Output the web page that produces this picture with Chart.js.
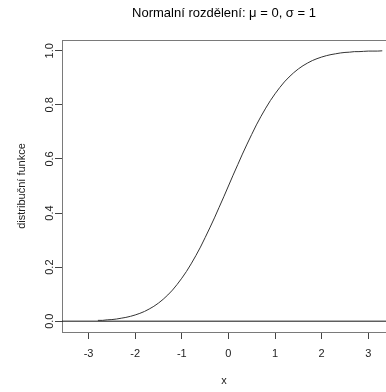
<!DOCTYPE html>
<html>
<head>
<meta charset="utf-8">
<script src="https://cdn.jsdelivr.net/npm/chart.js@4/dist/chart.umd.min.js"></script>
<style>
    html, body { margin: 0; padding: 0; background: #fff; }
    #wrap { width: 386px; height: 392px; }
</style>
</head>
<body>
<div id="wrap"><canvas id="cdfChart"></canvas></div>
<script>
const X_VALUES = [
    -2.8, -2.7, -2.6, -2.5, -2.4, -2.3, -2.2, -2.1, -2.0, -1.9, -1.8, -1.7, -1.6, -1.5, -1.4, -1.3,
    -1.2, -1.1, -1.0, -0.9, -0.8, -0.7, -0.6, -0.5, -0.4, -0.3, -0.2, -0.1, 0.0, 0.1, 0.2, 0.3,
    0.4, 0.5, 0.6, 0.7, 0.8, 0.9, 1.0, 1.1, 1.2, 1.3, 1.4, 1.5, 1.6, 1.7, 1.8, 1.9,
    2.0, 2.1, 2.2, 2.3, 2.4, 2.5, 2.6, 2.7, 2.8, 2.9, 3.0, 3.1, 3.2, 3.3
];
const CDF_VALUES = [
    0.003, 0.003, 0.005, 0.006, 0.008, 0.011, 0.014, 0.018, 0.023, 0.029, 0.036, 0.045, 0.055, 0.067, 0.081, 0.097,
    0.115, 0.136, 0.159, 0.184, 0.212, 0.242, 0.274, 0.309, 0.345, 0.382, 0.421, 0.460, 0.500, 0.540, 0.579, 0.618,
    0.655, 0.691, 0.726, 0.758, 0.788, 0.816, 0.841, 0.864, 0.885, 0.903, 0.919, 0.933, 0.945, 0.955, 0.964, 0.971,
    0.977, 0.982, 0.986, 0.989, 0.992, 0.994, 0.995, 0.997, 0.997, 0.998, 0.999, 0.999, 0.999, 1.000
];
const ZERO_LINE_X = [-4, 4];
const ZERO_LINE_Y = [0, 0];
const X_TICKS = [-3, -2, -1, 0, 1, 2, 3];
const Y_TICKS = [0, 0.2, 0.4, 0.6, 0.8, 1.0];

const TITLE = "Normalní rozdělení: \u03bc = 0, \u03c3 = 1";
const X_TITLE = "x";
const Y_TITLE = "distribuční funkce";

const FONT_FAMILY = "'Liberation Sans', Arial, sans-serif";
const BOX_COLOR = "#7a7a7a";
const TICK_COLOR = "#444";
const TEXT_COLOR = "#222";

function toPoints(xs, ys) {
    return xs.map((x, i) => ({ x: x, y: ys[i] }));
}

// R style box: top edge (left and bottom come from the axis borders)
const topEdge = {
    id: 'topEdge',
    afterDraw(chart) {
        const ctx = chart.ctx;
        const area = chart.chartArea;
        ctx.save();
        ctx.strokeStyle = BOX_COLOR;
        ctx.lineWidth = 1;
        ctx.beginPath();
        ctx.moveTo(area.left, area.top + 0.5);
        ctx.lineTo(area.right, area.top + 0.5);
        ctx.stroke();
        ctx.restore();
    }
};

var ctx = document.getElementById('cdfChart').getContext('2d');
var chart = new Chart(ctx, {
    type: 'line',
    data: {
        datasets: [
            {
                label: 'cdf',
                data: toPoints(X_VALUES, CDF_VALUES),
                borderColor: '#333',
                borderWidth: 1,
                pointRadius: 0,
                tension: 0,
                fill: false
            },
            {
                label: 'zero',
                data: toPoints(ZERO_LINE_X, ZERO_LINE_Y),
                borderColor: '#111',
                borderWidth: 1,
                pointRadius: 0,
                fill: false
            }
        ]
    },
    options: {
        responsive: true,
        maintainAspectRatio: false,
        animation: false,
        devicePixelRatio: 1,
        layout: { padding: 0 },
        plugins: {
            legend: { display: false },
            tooltip: { enabled: false },
            title: {
                display: true,
                text: TITLE,
                fullSize: false,
                color: '#000',
                font: { family: FONT_FAMILY, size: 13, weight: 'normal' },
                padding: { top: 6, bottom: 18.4 }
            }
        },
        scales: {
            x: {
                type: 'linear',
                position: 'bottom',
                min: -3.57,
                max: 3.38,
                afterFit(scale) { scale.height = 60; },
                afterBuildTicks(scale) { scale.ticks = X_TICKS.map(v => ({ value: v })); },
                border: { color: BOX_COLOR, width: 1 },
                grid: { drawOnChartArea: false, tickLength: 7, color: TICK_COLOR },
                ticks: {
                    color: TEXT_COLOR,
                    padding: 8,
                    maxRotation: 0,
                    font: { family: FONT_FAMILY, size: 11 }
                },
                title: {
                    display: true,
                    text: X_TITLE,
                    color: TEXT_COLOR,
                    font: { family: FONT_FAMILY, size: 11 },
                    padding: { top: 0, bottom: 4 }
                }
            },
            y: {
                type: 'linear',
                min: -0.04,
                max: 1.04,
                afterFit(scale) { scale.width = 62; },
                afterBuildTicks(scale) { scale.ticks = Y_TICKS.map(v => ({ value: v })); },
                border: { color: BOX_COLOR, width: 1 },
                grid: { drawOnChartArea: false, tickLength: 7, color: TICK_COLOR },
                ticks: {
                    color: TEXT_COLOR,
                    minRotation: 90,
                    maxRotation: 90,
                    crossAlign: 'center',
                    padding: -3,
                    font: { family: FONT_FAMILY, size: 11 },
                    callback: v => v.toFixed(1)
                },
                title: {
                    display: true,
                    text: Y_TITLE,
                    color: TEXT_COLOR,
                    font: { family: FONT_FAMILY, size: 11 },
                    padding: { top: 15, bottom: 0 }
                }
            }
        }
    },
    plugins: [topEdge]
});
</script>
</body>
</html>
